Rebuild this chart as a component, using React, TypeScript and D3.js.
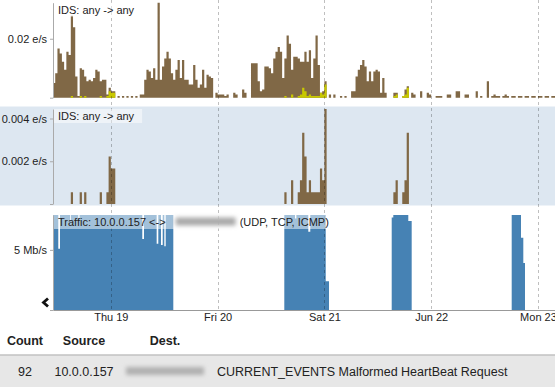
import React, { useEffect, useRef } from "react";
import * as d3 from "d3";

// 30 minute bins, first bin starts Wed Jun 18 2014 11:00
const binStart = new Date(2014, 5, 18, 11, 0);
const viewEnd = new Date(2014, 5, 23, 3, 50);
const binMinutes = 30;

// IDS: any -> any, events per bin
const idsAll = [
  9, 15, 30, 27, 22, 17, 28, 26, 50, 43, 13, 1, 18, 17, 13, 10, 11, 10, 12, 17,
  16, 10, 11, 11, 2, 6, 4, 4, 0, 1, 0, 1, 0, 1, 0, 1, 0, 1, 0, 2,
  2, 11, 17, 16, 12, 18, 11, 58, 11, 19, 24, 28, 24, 15, 11, 17, 23, 12, 23, 11,
  11, 8, 8, 20, 11, 6, 8, 17, 6, 14, 13, 12, 0, 3, 2, 2, 2, 1, 2, 0,
  0, 3, 2, 0, 0, 5, 3, 0, 0, 21, 21, 21, 10, 4, 5, 19, 19, 18, 15, 24,
  28, 31, 28, 12, 24, 38, 33, 17, 25, 25, 24, 22, 22, 28, 22, 29, 12, 24, 38, 20,
  3, 4, 10, 0, 2, 0, 2, 0, 0, 1, 0, 1, 0, 0, 4, 4, 13, 17, 20, 23,
  19, 10, 16, 10, 16, 17, 16, 3, 12, 3, 0, 0, 0, 3, 3, 0, 0, 1, 5, 7,
  0, 3, 2, 0, 0, 4, 0, 0, 3, 2, 0, 0, 1, 1, 1, 0, 0, 2, 2, 0,
  0, 4, 4, 0, 0, 2, 2, 0, 0, 0, 4, 0, 1, 0, 0, 10, 0, 1, 2, 1,
  1, 0, 1, 2, 1, 0, 1, 1, 0, 1, 1, 0, 1, 1, 0, 1, 1, 0, 1, 1,
  0, 1, 1, 0, 1, 1,
];

// CURRENT_EVENTS Malformed HeartBeat Request: bin index and events
const sigBins = [8, 12, 14, 21, 24, 25, 26, 27, 104, 107, 110, 111, 112, 113, 114, 115, 116, 117, 118, 119, 120, 121, 122, 153, 154, 157, 158, 159];
const sigCounts = [1, 1, 1, 1, 1, 4, 3, 3, 1, 2, 1, 2, 6, 4, 1, 2, 1, 1, 1, 1, 3, 2, 8, 1, 2, 1, 2, 6];

// traffic, hours after binStart where the rate changes, and the rate in Mb/s
const trafficHours = [
  0, 1.19, 1.57, 3.82, 4.0, 5.69, 5.96, 20.07, 20.45, 23.3, 23.67, 24.27, 24.66, 25.02, 25.33, 27.04,
  51.99, 54.4, 54.7, 57.38, 57.83, 61.3, 62.04,
  76.13, 76.49, 79.86, 80.62,
  103.1, 105.19, 105.71, 106.09,
];
const trafficMbps = [
  7.9, 5.1, 7.9, 7.4, 7.9, 7.6, 7.9, 5.9, 7.9, 5.5, 7.9, 5.4, 7.9, 5.3, 7.9, 0,
  7.9, 7.6, 7.9, 6.5, 7.9, 2.4, 0,
  7.7, 7.9, 7.4, 0,
  7.9, 6.0, 3.9, 0,
];

const idsTicks = [0, 0.02];
const sigTicks = [0, 0.002, 0.004];
const trafficTicks = [0, 5];

const tableHeads = ["Count", "Source", "Dest."];
const rowCount = "92";
const rowSource = "10.0.0.157";
const rowSignature = "CURRENT_EVENTS Malformed HeartBeat Request";

const font = "'Liberation Sans', Arial, sans-serif";

export default function App() {
  const ref = useRef<SVGSVGElement>(null);

  useEffect(() => {
    const svg = d3.select(ref.current);
    svg.selectAll("*").remove();
    svg.attr("font-family", font);

    svg.append("defs").append("filter").attr("id", "blur")
      .attr("x", "-30%").attr("y", "-80%").attr("width", "160%").attr("height", "260%")
      .append("feGaussianBlur").attr("stdDeviation", 2.2);

    const x = d3.scaleTime().domain([binStart, viewEnd]).range([53, 555]);
    const binTime = (i: number) => d3.timeMinute.offset(binStart, i * binMinutes);
    const perSec = (c: number) => c / (binMinutes * 60);
    const hourTime = (h: number) => new Date(binStart.getTime() + h * 3600000);

    const sigAll = idsAll.map(() => 0);
    sigBins.forEach((b, k) => (sigAll[b] = sigCounts[k]));

    const y1 = d3.scaleLinear().domain([0, perSec(d3.max(idsAll)!)]).range([97.7, 2.7]);
    const y2 = d3.scaleLinear().domain([0, perSec(d3.max(sigCounts)!)]).range([204, 109]);
    const y3 = d3.scaleLinear().domain([0, d3.max(trafficMbps)!]).range([310, 215]);

    // middle panel background
    svg.append("rect").attr("x", 0).attr("y", 106.5).attr("width", 555).attr("height", 99).attr("fill", "#dde7f1");

    // histogram drawn as one stepped area per series
    const bars = (counts: number[], y: d3.ScaleLinear<number, number>, color: string) => {
      const pts: [number, number][] = counts.map((c, i) => [i, c]);
      pts.push([counts.length, 0]);
      const a = d3.area<[number, number]>()
        .x(d => x(binTime(d[0])))
        .y0(y(0))
        .y1(d => y(perSec(d[1])))
        .curve(d3.curveStepAfter);
      svg.append("path").datum(pts).attr("d", a).attr("fill", color);
    };
    bars(idsAll, y1, "#806846");
    bars(sigAll, y1, "#c8c800");
    bars(sigAll, y2, "#806846");

    const traffic = trafficHours.map((h, i) => [h, trafficMbps[i]] as [number, number]);
    const area = d3.area<[number, number]>()
      .x(d => x(hourTime(d[0])))
      .y0(y3(0))
      .y1(d => y3(d[1]))
      .curve(d3.curveStepAfter);
    svg.append("path").datum(traffic).attr("d", area).attr("fill", "#4682b4");

    // day grid
    svg.append("g").selectAll("line").data(x.ticks(d3.timeDay)).enter().append("line")
      .attr("x1", d => Math.round(x(d)) + 0.5).attr("x2", d => Math.round(x(d)) + 0.5)
      .attr("y1", 0).attr("y2", 310)
      .attr("stroke", "#000").attr("stroke-opacity", 0.25).attr("stroke-dasharray", "3,3");

    // panel labels with translucent boxes
    const label = (top: number, text: string) => {
      const g = svg.append("g");
      const box = g.append("rect").attr("x", 53).attr("y", top).attr("height", 14)
        .attr("fill", "#fff").attr("fill-opacity", 0.5);
      const t = g.append("text").attr("x", 58).attr("y", top + 11).attr("font-size", 11).attr("fill", "#222").text(text);
      const w = (t.node() as SVGTextElement).getComputedTextLength();
      box.attr("width", 5 + w + 8);
    };
    label(2.7, "IDS: any -> any");
    label(109, "IDS: any -> any");

    {
      const g = svg.append("g");
      const box = g.append("rect").attr("x", 53).attr("y", 215).attr("height", 14)
        .attr("fill", "#fff").attr("fill-opacity", 0.5);
      const t1 = g.append("text").attr("x", 58).attr("y", 225.7).attr("font-size", 11).attr("fill", "#222")
        .text("Traffic: 10.0.0.157 <->");
      const end1 = 58 + (t1.node() as SVGTextElement).getComputedTextLength();
      g.append("rect").attr("x", end1 + 10).attr("y", 217.5).attr("width", 60).attr("height", 8)
        .attr("fill", "#a8a8a8").attr("filter", "url(#blur)");
      const t2 = g.append("text").attr("x", end1 + 74).attr("y", 225.7).attr("font-size", 11).attr("fill", "#222")
        .text("(UDP, TCP, ICMP)");
      const end2 = end1 + 74 + (t2.node() as SVGTextElement).getComputedTextLength();
      box.attr("width", end2 + 8 - 53);
    }

    // y axes
    const yAxis = (y: d3.ScaleLinear<number, number>, ticks: number[], unit: string) => {
      const g = svg.append("g").attr("transform", "translate(53,0)")
        .call(d3.axisLeft(y).tickValues(ticks).tickSize(3).tickSizeOuter(0).tickPadding(3)
          .tickFormat(d => (+d === 0 ? "" : `${d} ${unit}`)));
      g.attr("font-size", 11).attr("font-family", font);
      g.selectAll("path, line").attr("stroke", "#aaa");
      g.selectAll("text").attr("fill", "#222");
    };
    yAxis(y1, idsTicks, "e/s");
    yAxis(y2, sigTicks, "e/s");
    yAxis(y3, trafficTicks, "Mb/s");

    // time axis
    const xg = svg.append("g").attr("transform", "translate(0,310)")
      .call(d3.axisBottom(x).ticks(d3.timeDay).tickSize(0).tickSizeOuter(0).tickPadding(3));
    xg.attr("font-size", 11).attr("font-family", font);
    xg.select(".domain").attr("stroke", "#999");
    xg.selectAll("text").attr("fill", "#222");

    // back chevron
    svg.append("path").attr("d", "M48,298.5L43.5,302.5L48,306.5")
      .attr("fill", "none").attr("stroke", "#111").attr("stroke-width", 2.8);

    // event table
    const colX = [25, 84, 165];
    svg.append("g").selectAll("text").data(tableHeads).enter().append("text")
      .attr("x", (d, i) => colX[i]).attr("y", 345).attr("text-anchor", "middle")
      .attr("font-size", 12.5).attr("font-weight", "bold").attr("fill", "#222").text(d => d);
    svg.append("rect").attr("x", 0).attr("y", 355.5).attr("width", 555).attr("height", 32).attr("fill", "#e7e7e7");
    svg.append("line").attr("x1", 0).attr("x2", 555).attr("y1", 355).attr("y2", 355)
      .attr("stroke", "#a4a4a4").attr("stroke-width", 1.2);
    const row = svg.append("g").attr("font-size", 12.5).attr("fill", "#222");
    row.append("text").attr("x", colX[0]).attr("y", 375.5).attr("text-anchor", "middle").text(rowCount);
    row.append("text").attr("x", colX[1]).attr("y", 375.5).attr("text-anchor", "middle").text(rowSource);
    row.append("rect").attr("x", colX[2] - 39).attr("y", 367).attr("width", 78).attr("height", 8)
      .attr("fill", "#b0b0b0").attr("filter", "url(#blur)");
    row.append("text").attr("x", 217).attr("y", 375.5).text(rowSignature);
  }, []);

  return (
    <div>
      <style>{"body{margin:0}"}</style>
      <svg ref={ref} width={555} height={387} style={{ display: "block" }} />
    </div>
  );
}
